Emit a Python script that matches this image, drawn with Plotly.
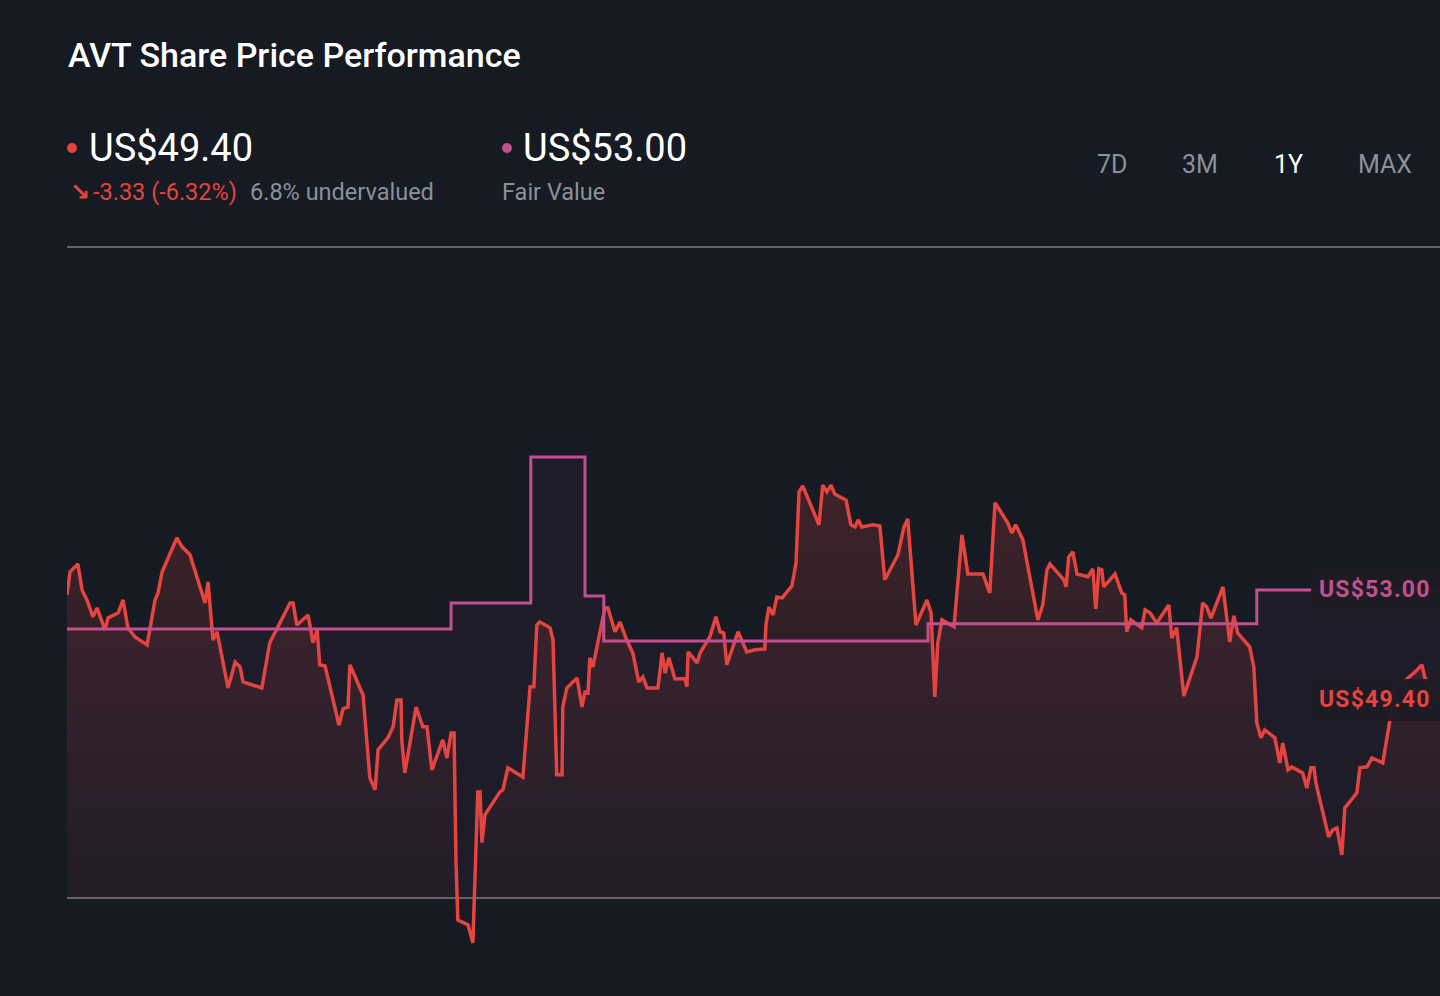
import plotly.graph_objects as go

# page / plot geometry (pixels)
W, H = 1440, 996
PLOT_L, PLOT_R, PLOT_T, PLOT_B = 67, 1440, 247, 960

BG = "#151a23"
RED = "#e5443f"
PINK = "#c24f8f"
GREY = "#8b9099"
GRID = "#5e636c"

ticker = "AVT"
last_price = 49.40
fair_value = 53.00
change = -3.33
change_pct = -6.32
undervalued_pct = 6.8
ranges = ["7D", "3M", "1Y", "MAX"]
active_range = "1Y"

# share price, days since start of the 1Y window
days = [0, 0.8, 2.9, 4.0, 5.3, 6.9, 8.0, 10.1, 10.9, 13.6,
        14.9, 16.2, 18.1, 21.3, 23.4, 24.2, 25.3, 29.2, 30.6, 32.7,
        36.7, 37.5, 38.8, 39.9, 42.8, 44.7, 46.0, 46.8, 51.8, 53.9,
        59.3, 60.1, 61.1, 64.1, 65.4, 66.5, 67.2, 68.6, 72.3, 73.4,
        74.7, 75.2, 78.7, 79.7, 80.5, 81.9, 82.7, 85.3, 86.7, 87.7,
        88.8, 89.0, 89.8, 92.8, 94.6, 95.7, 97.0, 99.9, 101.0, 102.1,
        102.9, 103.4, 103.9, 106.6, 107.9, 109.2, 109.8, 110.3, 111.1, 115.1,
        115.9, 117.2, 121.2, 123.1, 124.1, 124.9, 125.7, 128.4, 129.2, 130.2,
        131.6, 131.8, 132.9, 135.6, 136.9, 137.7, 138.5, 139.0, 139.8, 143.0,
        143.8, 145.7, 147.0, 148.8, 150.4, 152.0, 153.1, 154.2, 157.1, 158.2,
        159.0, 160.0, 161.6, 164.3, 164.8, 165.1, 167.5, 168.3, 170.9, 172.5,
        173.6, 174.6, 175.4, 178.4, 180.7, 182.9, 185.5, 185.8, 186.6, 187.7,
        188.7, 190.1, 192.7, 193.8, 194.6, 195.6, 199.9, 200.9, 202.0, 203.1,
        204.1, 207.1, 208.4, 209.5, 210.3, 211.3, 214.2, 216.1, 217.4, 220.9,
        222.5, 223.5, 225.7, 228.6, 229.7, 230.7, 231.5, 232.6, 235.8, 237.9,
        239.5, 243.5, 245.3, 246.7, 250.1, 251.2, 252.2, 254.1, 258.1, 259.4,
        260.5, 261.3, 265.0, 265.6, 266.3, 267.4, 268.5, 271.4, 272.7, 273.5,
        274.3, 275.1, 275.6, 278.6, 280.4, 281.2, 281.7, 282.8, 285.7, 286.6,
        287.9, 289.7, 292.9, 293.7, 295.0, 296.9, 300.4, 301.9, 303.0, 304.1,
        307.3, 309.1, 310.2, 311.2, 314.4, 315.5, 316.3, 317.4, 318.4, 321.1,
        322.4, 323.2, 324.6, 325.6, 328.5, 329.6, 330.7, 331.5, 332.0, 335.4,
        336.5, 337.6, 338.9, 339.7, 342.9, 343.7, 345.6, 346.9, 349.8, 351.7,
        353.0, 358.9, 360.2, 361.0, 365.0]
price = [52.84, 53.59, 53.85, 53.00, 52.67, 52.12, 52.41, 51.69, 52.08, 52.25,
         52.67, 51.76, 51.46, 51.20, 52.67, 52.90, 53.59, 54.70, 54.41, 54.15,
         52.57, 53.26, 51.36, 51.63, 49.79, 50.64, 50.48, 49.99, 49.79, 51.27,
         52.57, 52.57, 51.85, 52.18, 51.27, 51.69, 50.55, 50.51, 48.58, 49.11,
         49.17, 50.55, 49.56, 47.99, 46.85, 46.46, 47.77, 48.16, 48.52, 49.40,
         49.40, 48.09, 47.01, 49.17, 48.52, 48.52, 47.11, 48.09, 47.50, 48.32,
         48.32, 44.17, 42.20, 42.04, 41.45, 46.39, 46.39, 44.73, 45.64, 46.39,
         46.46, 47.18, 46.88, 49.83, 49.83, 51.85, 51.95, 51.76, 51.36, 46.95,
         46.95, 49.17, 49.79, 50.12, 49.17, 49.66, 49.63, 50.78, 50.48, 52.41,
         52.41, 51.63, 51.95, 51.36, 50.94, 49.99, 50.15, 49.79, 49.79, 50.94,
         50.28, 50.78, 50.09, 50.09, 49.83, 50.97, 50.61, 50.94, 51.46, 52.12,
         51.63, 51.59, 50.55, 51.63, 50.97, 51.04, 51.07, 51.85, 52.44, 52.18,
         52.77, 52.74, 53.13, 53.88, 56.21, 56.40, 55.13, 56.43, 56.21, 56.43,
         56.14, 55.94, 55.13, 55.06, 55.29, 55.06, 55.13, 55.09, 53.33, 54.15,
         55.06, 55.32, 51.85, 52.67, 52.25, 49.50, 51.27, 52.02, 51.79, 54.80,
         53.52, 53.52, 52.90, 55.85, 55.19, 54.86, 55.13, 54.64, 52.02, 52.51,
         53.65, 53.85, 53.33, 53.10, 54.08, 54.24, 53.52, 53.43, 53.69, 52.38,
         53.69, 53.65, 53.10, 53.52, 52.90, 52.84, 51.63, 52.02, 51.76, 52.35,
         52.25, 51.92, 52.51, 51.43, 51.76, 49.53, 50.81, 52.57, 52.44, 52.08,
         53.10, 51.30, 52.15, 51.59, 51.14, 50.48, 48.65, 48.16, 48.42, 48.16,
         47.34, 47.99, 47.11, 47.21, 47.01, 46.52, 47.18, 47.18, 46.69, 44.92,
         45.15, 45.21, 44.33, 45.87, 46.36, 47.18, 47.21, 47.50, 47.34, 48.75,
         49.73, 50.38, 50.55, 50.12, 49.40]

# fair value estimate (step changes)
fv_days = [0, 102.1, 123.3, 137.7, 142.7, 228.9, 316.3, 365]
fv_values = [51.72, 52.57, 57.35, 52.80, 51.33, 51.89, 53.00, 53.00]

y_low, y_high = 40.89, 64.22
baseline = 42.92


def px(x):
    return (x - PLOT_L) / (PLOT_R - PLOT_L)


def py(y):
    return (PLOT_B - y) / (PLOT_B - PLOT_T)


def text(t, x, y, size, color, anchor="left", weight="normal", family="Roboto, DejaVu Sans"):
    return dict(text=t, x=px(x), y=py(y), xref="paper", yref="paper",
                xanchor=anchor, yanchor="middle", showarrow=False,
                font=dict(family=family, size=size, color=color, weight=weight))


fig = go.Figure()
base = dict(x=[0, 365], y=[baseline, baseline], mode="lines", line=dict(width=0),
            hoverinfo="skip", showlegend=False)
fig.add_trace(go.Scatter(**base))
fig.add_trace(go.Scatter(
    x=days, y=price, mode="lines", line=dict(color=RED, width=3.5),
    fill="tonexty",
    fillgradient=dict(type="vertical", start=baseline, stop=56.5,
                      colorscale=[[0, "rgba(229,68,63,0.02)"], [1, "rgba(229,68,63,0.2)"]]),
    hoverinfo="skip", showlegend=False))
fig.add_trace(go.Scatter(**base))
fig.add_trace(go.Scatter(
    x=fv_days, y=fv_values, mode="lines", line=dict(color=PINK, width=3, shape="hv"),
    fill="tonexty", fillcolor="rgba(194,79,143,0.05)",
    hoverinfo="skip", showlegend=False))

annotations = [
    text(f"{ticker} Share Price Performance", 66, 55, 34, "#ffffff", weight=500),
    text(f"US${last_price:.2f}", 87, 148, 38, "#ffffff"),
    text(f"US${fair_value:.2f}", 521, 148, 38, "#ffffff"),
    text("↘", 68, 192, 24, RED, weight="bold", family="DejaVu Sans"),
    text(f"{change:.2f} ({change_pct:.2f}%)", 91, 192, 23.5, RED),
    text(f"{undervalued_pct}% undervalued", 248, 192, 23.5, GREY),
    text("Fair Value", 500, 192, 23.5, GREY),
]
for label, cx in zip(ranges, [1112, 1200, 1288, 1385]):
    annotations.append(text(label, cx, 165, 25, "#ffffff" if label == active_range else GREY, anchor="center"))

shapes = [
    dict(type="line", xref="paper", yref="paper", x0=0, x1=1, y0=1, y1=1,
         line=dict(color=GRID, width=2), layer="below"),
    dict(type="line", xref="paper", yref="y", x0=0, x1=1, y0=baseline, y1=baseline,
         line=dict(color=GRID, width=2), layer="below"),
    dict(type="circle", xref="paper", yref="paper", x0=px(67), x1=px(77), y0=py(153), y1=py(143),
         fillcolor=RED, line=dict(width=0)),
    dict(type="circle", xref="paper", yref="paper", x0=px(502), x1=px(512), y0=py(153), y1=py(143),
         fillcolor=PINK, line=dict(width=0)),
]

# end-of-line value tags
tag_idx = []
for val, col in [(fair_value, PINK), (last_price, RED)]:
    shapes.append(dict(type="rect", xref="paper", x0=px(1311), x1=1.02,
                       yref="y", ysizemode="pixel", yanchor=val, y0=-21, y1=21,
                       fillcolor="rgba(29,27,36,0.96)", line=dict(width=0), layer="above"))
    tag_idx.append(len(annotations))
    annotations.append(dict(
        text=f"US${val:.2f}", x=px(1317), y=val, xref="paper", yref="y",
        xanchor="left", yanchor="middle", align="left", showarrow=False,
        font=dict(family="Roboto, DejaVu Sans", size=23, color=col, weight="bold")))

fig.update_layout(
    width=W, height=H,
    paper_bgcolor=BG, plot_bgcolor=BG,
    margin=dict(l=PLOT_L, r=W - PLOT_R, t=PLOT_T, b=H - PLOT_B, pad=0),
    xaxis=dict(range=[0, 365], visible=False, fixedrange=True),
    yaxis=dict(range=[y_low, y_high], visible=False, fixedrange=True),
    showlegend=False,
    shapes=shapes,
    annotations=annotations,
    font=dict(family="Roboto"),
)

# tags use slightly spaced-out lettering
js = "document.body.style.margin='0';"
for i in tag_idx:
    js += ("document.querySelectorAll('.annotation[data-index=\"%d\"] .annotation-text')"
           ".forEach(function(t){t.style.letterSpacing='1.2px';});" % i)

fig.write_html("out.html", config={"displayModeBar": False}, post_script=js)
